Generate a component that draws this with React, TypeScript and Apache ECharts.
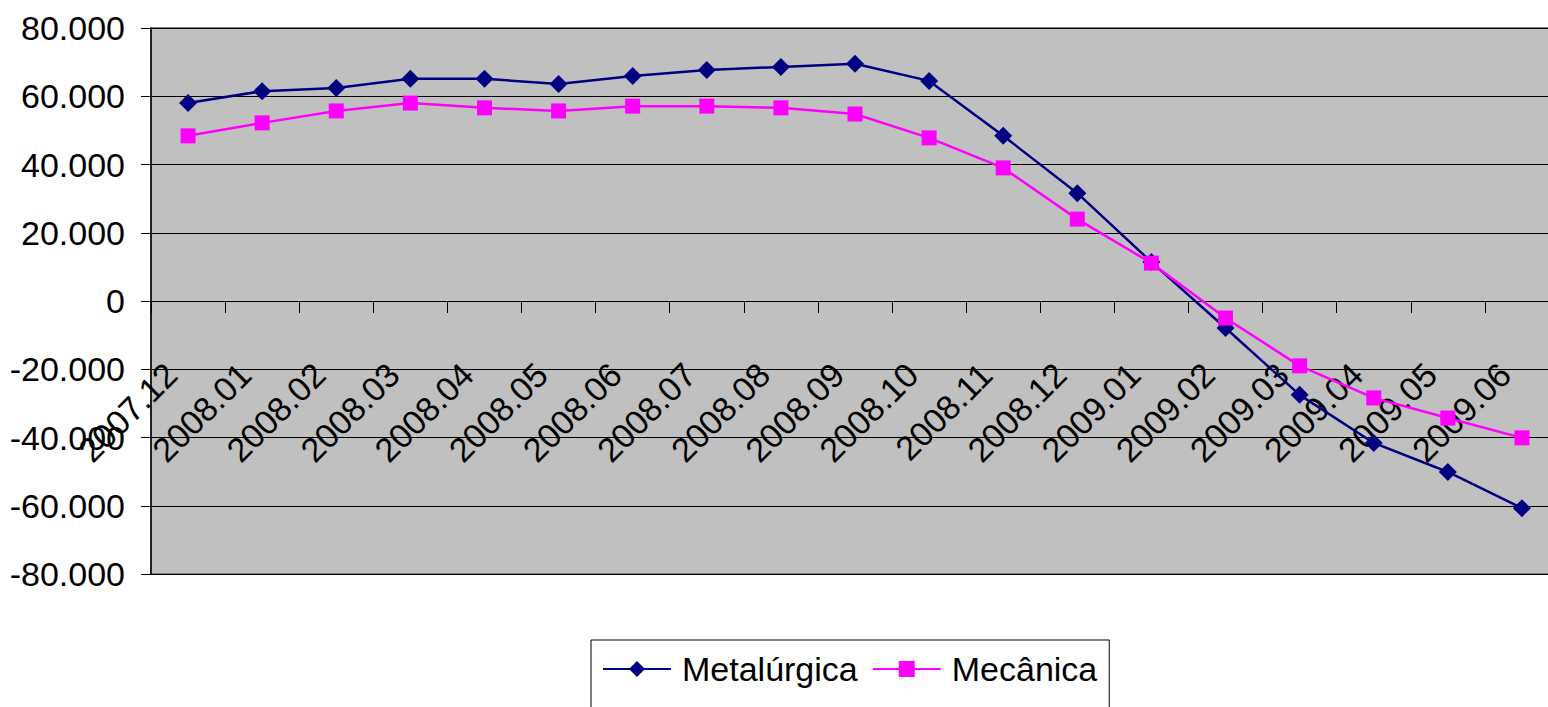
import React, { useEffect, useRef } from "react";
import * as echarts from "echarts";

const categories = [
  "2007.12", "2008.01", "2008.02", "2008.03", "2008.04", "2008.05", "2008.06",
  "2008.07", "2008.08", "2008.09", "2008.10", "2008.11", "2008.12", "2009.01",
  "2009.02", "2009.03", "2009.04", "2009.05", "2009.06",
];
const metalurgica = [
  58000, 61500, 62400, 65100, 65100, 63600, 65900, 67700, 68600, 69500, 64500,
  48400, 31600, 11400, -7900, -27500, -41600, -50100, -60700,
];
const mecanica = [
  48400, 52200, 55700, 58000, 56600, 55700, 57100, 57100, 56600, 54800, 47800,
  39000, 24000, 11100, -5000, -19000, -28400, -34300, -40100,
];
const yMin = -80000;
const yMax = 80000;
const yStep = 20000;

function fmt(v: number): string {
  const neg = v < 0;
  const s = Math.abs(Math.round(v)).toString();
  const out = s.replace(/\B(?=(\d{3})+(?!\d))/g, ".");
  return (neg ? "-" : "") + out;
}

const FONT = "Arial, 'Liberation Sans', sans-serif";
const GRID_TOP = 28;
const GRID_BOTTOM_PX = 574;

export default function App() {
  const ref = useRef<HTMLDivElement>(null);
  useEffect(() => {
    if (!ref.current) return;
    const chart = echarts.init(ref.current, undefined, { renderer: "svg" });
    const plotH = GRID_BOTTOM_PX - GRID_TOP;
    const zeroOffset = -Math.round((plotH * (0 - yMin)) / (yMax - yMin));
    chart.setOption({
      animation: false,
      backgroundColor: "#ffffff",
      grid: {
        left: 151,
        right: -11,
        top: GRID_TOP,
        bottom: 707 - GRID_BOTTOM_PX,
        outerBoundsMode: "none",
        containLabel: false,
        show: true,
        backgroundColor: "#C0C0C0",
        borderColor: "#808080",
        borderWidth: 2,
      },
      legend: {
        left: 591,
        top: 640,
        width: 524,
        padding: [12, 12, 30, 11],
        borderColor: "#000000",
        borderWidth: 1,
        backgroundColor: "#ffffff",
        itemWidth: 68,
        itemHeight: 20,
        itemGap: 14,
        textStyle: { fontSize: 34, color: "#000", fontFamily: FONT, padding: [0, 0, 0, 6] },
        data: ["Metalúrgica", "Mecânica"],
      },
      xAxis: [
        {
          type: "category",
          data: categories,
          boundaryGap: true,
          axisLine: { onZero: true, lineStyle: { color: "#000", width: 1 } },
          axisTick: { show: true, length: 12, lineStyle: { color: "#000" }, interval: 0 },
          axisLabel: { show: false },
          splitLine: { show: false },
        },
        {
          type: "category",
          data: categories,
          boundaryGap: true,
          position: "bottom",
          offset: zeroOffset,
          axisLine: { show: false, onZero: false },
          axisTick: { show: false },
          axisLabel: {
            rotate: 45,
            interval: 0,
            margin: 51,
            padding: [0, 24, 0, 0],
            fontSize: 34,
            color: "#000",
            fontFamily: FONT,
          },
          splitLine: { show: false },
        },
      ],
      yAxis: {
        type: "value",
        min: yMin,
        max: yMax,
        interval: yStep,
        axisLine: { show: true, lineStyle: { color: "#000", width: 1.5 } },
        axisTick: { show: true, length: 10, lineStyle: { color: "#000" } },
        axisLabel: {
          margin: 26,
          fontSize: 34,
          color: "#000",
          fontFamily: FONT,
          formatter: (v: number) => fmt(v),
        },
        splitLine: { show: true, lineStyle: { color: "#000", width: 1 } },
      },
      series: [
        {
          name: "Metalúrgica",
          type: "line",
          data: metalurgica,
          symbol: "diamond",
          symbolSize: 18,
          color: "#000080",
          lineStyle: { color: "#000080", width: 2.5 },
          itemStyle: { color: "#000080" },
        },
        {
          name: "Mecânica",
          type: "line",
          data: mecanica,
          symbol: "rect",
          symbolSize: 15,
          color: "#FF00FF",
          lineStyle: { color: "#FF00FF", width: 2.5 },
          itemStyle: { color: "#FF00FF" },
        },
      ],
    });
    return () => chart.dispose();
  }, []);
  return (
    <div
      ref={ref}
      style={{ position: "absolute", left: 0, top: 0, width: 1548, height: 707 }}
    />
  );
}
